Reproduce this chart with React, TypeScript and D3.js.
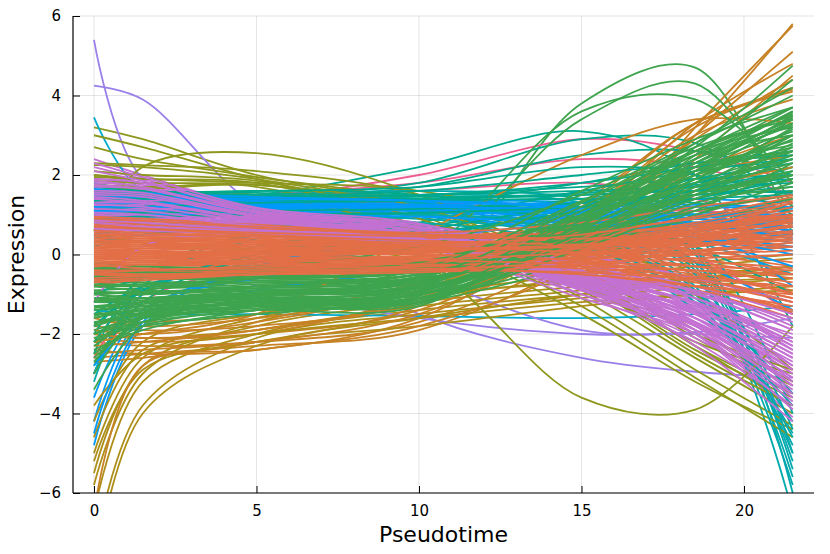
import React, { useEffect, useRef } from 'react';
import * as d3 from 'd3';

const knots = [0, 1.5, 5, 10, 15, 18.5, 21.5];

const xTicks = [0, 5, 10, 15, 20];
const yTicks = [-6, -4, -2, 0, 2, 4, 6];

const blueLines = [
  [1.3, 1.3, 1.2, 1.2, 1.1, 1.0, 0.9],
  [1.1, 1.15, 1.2, 1.3, 1.2, 1.0, 0.6],
  [1.5, 1.5, 1.4, 1.2, 0.9, 0.6, 0.3],
  [1.0, 1.1, 1.1, 1.0, 0.8, 0.5, 0.1],
  [-4.8, -1.8, -0.2, 0.5, 0.9, 1.0, 1.1],
  [1.2, 1.25, 1.3, 1.2, 1.0, 0.8, 0.7],
  [-4.2, -1.5, -0.4, 0.2, 0.6, 0.8, 0.9],
  [1.4, 1.35, 1.3, 1.3, 1.4, 1.4, 1.3],
  [-3.6, -1.4, -0.6, -0.2, 0.2, 0.5, 0.7],
  [0.9, 1.0, 1.05, 1.1, 1.0, 0.7, -0.8],
  [1.35, 1.3, 1.2, 1.0, 0.5, -0.2, -1.4],
  [1.6, 1.5, 1.3, 1.1, 0.8, 0.5, 0.2],
  [-2.8, -1.6, -0.9, -0.4, 0.1, 0.4, 0.6],
  [1.25, 1.2, 1.15, 1.1, 0.9, 0.6, 1.0],
  [1.45, 1.4, 1.35, 1.25, 1.1, 0.9, 0.8],
  [1.15, 1.2, 1.25, 1.25, 1.05, 0.75, 0.4],
  [1.05, 1.05, 1.1, 1.15, 1.2, 1.2, 1.15],
  [1.55, 1.45, 1.35, 1.2, 1.0, 0.7, 0.5],
  [1.3, 1.3, 1.25, 1.15, 0.85, 0.4, -0.3],
  [-4.5, -1.7, -0.3, 0.4, 0.8, 1.0, 1.0],
  [1.2, 1.2, 1.2, 1.25, 1.3, 1.25, 1.2],
  [0.95, 1.0, 1.0, 0.95, 0.75, 0.45, 0.0],
  [1.5, 1.45, 1.4, 1.35, 1.2, 0.9, 0.6],
  [1.1, 1.1, 1.15, 1.2, 1.1, 0.9, 0.7],
  [1.65, 1.55, 1.45, 1.35, 1.15, 0.8, 0.4],
];

const orangeLines = [
  [0.9, 0.8, 0.6, 0.4, 0.6, 0.9, 1.4],
  [0.8, 0.7, 0.5, 0.3, 0.4, 0.7, 1.1],
  [0.7, 0.6, 0.5, 0.4, 0.5, 0.6, 0.8],
  [0.6, 0.5, 0.4, 0.2, 0.1, 0.0, -0.3],
  [0.5, 0.45, 0.35, 0.2, 0.2, 0.3, 0.5],
  [0.4, 0.35, 0.3, 0.1, -0.1, -0.3, -0.6],
  [0.3, 0.3, 0.25, 0.1, 0.0, 0.1, 0.2],
  [0.2, 0.2, 0.1, 0.0, -0.2, -0.5, -0.9],
  [0.1, 0.1, 0.05, 0.0, 0.1, 0.3, 0.6],
  [0.0, 0.0, -0.05, -0.1, -0.3, -0.6, -1.2],
  [-0.1, -0.1, -0.1, -0.15, -0.1, 0.0, 0.2],
  [-0.2, -0.2, -0.2, -0.2, -0.4, -0.8, -1.5],
  [-0.3, -0.3, -0.25, -0.2, 0.0, 0.3, 0.7],
  [-0.4, -0.35, -0.3, -0.3, -0.5, -0.9, -1.6],
  [-0.5, -0.45, -0.4, -0.35, -0.2, 0.1, 0.4],
  [-0.6, -0.5, -0.4, -0.4, -0.6, -0.9, -1.3],
  [-0.7, -0.6, -0.45, -0.3, 0.1, 0.6, 1.2],
  [0.95, 0.85, 0.7, 0.5, 0.3, 0.1, -0.2],
  [0.75, 0.7, 0.55, 0.45, 0.7, 1.1, 1.5],
  [0.55, 0.5, 0.4, 0.3, 0.3, 0.4, 0.6],
  [0.45, 0.4, 0.3, 0.15, -0.2, -0.6, -1.1],
  [0.35, 0.3, 0.2, 0.05, 0.2, 0.6, 1.0],
  [0.25, 0.25, 0.2, 0.15, 0.3, 0.5, 0.9],
  [0.15, 0.1, 0.0, -0.1, -0.4, -0.8, -1.4],
  [0.05, 0.05, 0.1, 0.2, 0.4, 0.7, 1.3],
  [-0.05, -0.05, -0.1, -0.2, -0.2, -0.1, 0.0],
  [-0.15, -0.1, 0.0, 0.1, 0.3, 0.6, 1.1],
  [-0.25, -0.2, -0.15, -0.1, -0.3, -0.7, -1.2],
  [-0.35, -0.3, -0.2, -0.05, 0.2, 0.5, 0.8],
  [-0.45, -0.4, -0.35, -0.25, -0.1, 0.0, 0.1],
  [-0.55, -0.5, -0.4, -0.3, -0.4, -0.6, -0.8],
  [-0.65, -0.55, -0.4, -0.2, 0.0, 0.2, 0.4],
  [0.85, 0.75, 0.6, 0.45, 0.5, 0.7, 1.0],
  [0.65, 0.6, 0.5, 0.35, 0.1, -0.2, -0.5],
  [0.5, 0.5, 0.45, 0.4, 0.6, 0.9, 1.35],
  [0.3, 0.25, 0.15, 0.0, 0.0, 0.1, 0.3],
  [0.1, 0.05, -0.05, -0.2, -0.1, 0.2, 0.5],
  [-0.1, -0.15, -0.2, -0.3, -0.5, -0.8, -1.0],
  [-0.3, -0.25, -0.2, -0.1, 0.1, 0.4, 0.9],
  [-0.5, -0.45, -0.35, -0.2, -0.2, -0.3, -0.4],
  [0.2, 0.15, 0.1, 0.05, 0.2, 0.4, 0.7],
  [-0.8, -0.6, -0.4, -0.3, -0.3, -0.4, -0.5],
  [0.95, 0.9, 0.75, 0.55, 0.8, 1.2, 1.5],
  [0.85, 0.8, 0.65, 0.5, 0.55, 0.75, 1.2],
  [0.7, 0.65, 0.55, 0.45, 0.35, 0.3, 0.2],
  [0.6, 0.55, 0.45, 0.3, 0.45, 0.8, 1.3],
  [0.4, 0.4, 0.35, 0.3, 0.4, 0.6, 1.0],
  [0.3, 0.35, 0.3, 0.25, 0.15, -0.1, -0.5],
  [0.2, 0.25, 0.25, 0.2, 0.35, 0.65, 1.1],
  [0.1, 0.15, 0.15, 0.1, 0.0, -0.3, -0.8],
  [0.0, 0.05, 0.05, 0.05, 0.25, 0.55, 0.95],
  [-0.1, -0.05, 0.0, 0.0, -0.15, -0.45, -1.0],
  [-0.2, -0.15, -0.1, -0.05, 0.15, 0.45, 0.85],
  [-0.3, -0.25, -0.25, -0.25, -0.35, -0.55, -0.95],
  [-0.4, -0.4, -0.35, -0.3, -0.05, 0.35, 0.75],
  [-0.5, -0.5, -0.45, -0.4, -0.45, -0.65, -1.1],
  [-0.6, -0.55, -0.5, -0.45, -0.25, 0.05, 0.3],
  [-0.7, -0.65, -0.5, -0.35, -0.5, -0.8, -1.45],
  [0.9, 0.85, 0.7, 0.5, 0.4, 0.5, 0.7],
  [0.75, 0.65, 0.5, 0.35, 0.25, 0.25, 0.35],
  [0.5, 0.45, 0.35, 0.25, 0.5, 0.95, 1.45],
  [0.35, 0.35, 0.3, 0.2, 0.05, -0.15, -0.35],
  [0.15, 0.2, 0.2, 0.15, 0.25, 0.5, 0.85],
  [-0.05, 0.0, 0.05, 0.1, 0.2, 0.35, 0.55],
  [-0.25, -0.2, -0.15, -0.15, -0.25, -0.4, -0.7],
  [-0.45, -0.4, -0.3, -0.15, 0.05, 0.25, 0.45],
  [-0.65, -0.6, -0.5, -0.4, -0.15, 0.2, 0.6],
];

const greenLines = [
  [-1.5, -1.2, -1.0, -0.9, 3.8, 4.7, 0.5],
  [-0.3, -0.35, -0.4, -0.3, 0.6, 1.6, 2.5],
  [-0.5, -0.55, -0.55, -0.4, 0.4, 1.4, 2.2],
  [-0.7, -0.7, -0.65, -0.5, 0.5, 1.7, 3.0],
  [-0.9, -0.85, -0.8, -0.6, 0.3, 1.3, 2.0],
  [-1.1, -1.0, -0.9, -0.7, 0.6, 2.0, 3.4],
  [-1.2, -1.2, -1.0, -0.8, 0.2, 1.2, 1.9],
  [-1.2, -1.0, -0.8, -0.3, 3.4, 4.3, 1.2],
  [-1.4, -1.3, -1.1, -0.9, 0.4, 1.8, 3.2],
  [-1.6, -1.4, -1.2, -1.0, 0.0, 1.0, 1.6],
  [-1.8, -1.5, -1.2, -0.8, 0.8, 2.4, 3.7],
  [-2.0, -1.6, -1.3, -1.1, 0.2, 1.5, 2.6],
  [-2.2, -1.7, -1.3, -1.0, 0.5, 2.1, 3.5],
  [-2.5, -1.8, -1.4, -1.2, -0.2, 0.9, 1.4],
  [-1.0, -0.9, -0.6, 0.0, 3.6, 3.9, 1.8],
  [-0.4, -0.5, -0.6, -0.5, 0.8, 2.3, 3.6],
  [-0.6, -0.7, -0.7, -0.6, 0.1, 0.9, 1.2],
  [-0.8, -0.9, -0.9, -0.7, 0.9, 2.7, 4.75],
  [-1.0, -1.1, -1.0, -0.8, 0.3, 1.6, 2.8],
  [-1.3, -1.2, -1.1, -1.0, 0.7, 2.5, 4.4],
  [-1.5, -1.4, -1.2, -1.1, -0.1, 1.0, 1.8],
  [-1.7, -1.5, -1.3, -1.2, 0.6, 2.2, 3.3],
  [-1.9, -1.6, -1.4, -1.3, 1.0, 2.8, 4.2],
  [-2.1, -1.8, -1.5, -1.1, 0.4, 1.9, 3.0],
  [-2.4, -1.9, -1.4, -1.0, 0.1, 1.1, 2.3],
  [-3.0, -1.5, -1.0, -0.6, 1.0, 2.6, 3.7],
  [-3.4, -1.8, -1.1, -0.7, 0.5, 1.7, 2.5],
  [-2.7, -1.6, -1.2, -0.9, 0.8, 2.3, 3.4],
  [-0.3, -0.4, -0.5, -0.4, 1.2, 2.6, 3.5],
  [-0.5, -0.6, -0.6, -0.3, 1.6, 2.9, 3.7],
  [-0.7, -0.8, -0.75, -0.5, 0.9, 2.0, 2.7],
  [-0.9, -1.0, -0.85, -0.55, 1.3, 2.6, 3.2],
  [-1.1, -1.1, -0.95, -0.65, 0.7, 1.9, 2.9],
  [-1.3, -1.3, -1.05, -0.75, 1.1, 2.4, 3.6],
  [-1.5, -1.5, -1.15, -0.85, 0.5, 1.5, 2.1],
  [-1.7, -1.6, -1.25, -0.95, 0.9, 2.1, 2.6],
  [-0.2, -0.3, -0.3, 0.2, 1.5, 2.8, 4.0],
  [-0.8, -0.75, -0.6, -0.4, 0.6, 1.5, 2.0],
  [-1.2, -1.15, -1.0, -0.7, 0.4, 1.1, 1.5],
  [-2.0, -1.7, -1.4, -1.2, 0.3, 1.6, 2.7],
  [-0.4, -0.45, -0.45, -0.35, 0.7, 1.9, 2.9],
  [-0.6, -0.6, -0.6, -0.45, 0.45, 1.5, 2.4],
  [-0.8, -0.8, -0.7, -0.55, 1.0, 2.4, 3.3],
  [-1.0, -0.95, -0.85, -0.65, 0.35, 1.4, 2.1],
  [-1.2, -1.1, -0.95, -0.75, 0.85, 2.2, 3.1],
  [-1.4, -1.25, -1.05, -0.85, 0.25, 1.3, 1.7],
  [-1.6, -1.35, -1.15, -0.95, 0.65, 2.0, 3.0],
  [-1.8, -1.45, -1.2, -1.05, 1.1, 2.5, 3.55],
  [-2.0, -1.5, -1.25, -1.15, 0.45, 1.7, 2.4],
  [-2.3, -1.6, -1.3, -1.25, 0.75, 2.2, 3.45],
  [-2.6, -1.7, -1.35, -1.2, 0.15, 1.2, 1.9],
  [-0.35, -0.4, -0.35, -0.2, 1.0, 2.2, 2.75],
  [-0.55, -0.6, -0.55, -0.35, 1.35, 2.7, 3.4],
  [-0.75, -0.75, -0.7, -0.5, 0.55, 1.8, 2.6],
  [-0.95, -0.95, -0.8, -0.6, 1.2, 2.5, 3.0],
  [-1.15, -1.1, -0.9, -0.7, 0.5, 1.6, 2.3],
  [-1.35, -1.2, -1.0, -0.8, 0.95, 2.3, 3.25],
  [-1.55, -1.3, -1.1, -0.9, 0.35, 1.4, 2.0],
  [-1.75, -1.4, -1.2, -1.0, 0.75, 2.1, 2.85],
  [-2.2, -1.55, -1.3, -1.1, 0.55, 1.9, 3.15],
];

const purpleLines = [
  [2.4, 2.0, 1.2, 0.8, 0.0, -1.0, -2.4],
  [2.2, 1.9, 1.15, 0.75, -0.1, -1.2, -2.8],
  [2.0, 1.8, 1.1, 0.7, -0.3, -1.4, -3.2],
  [1.9, 1.75, 1.05, 0.65, -0.4, -1.5, -3.0],
  [1.8, 1.7, 1.05, 0.6, -0.6, -1.8, -3.6],
  [1.75, 1.6, 1.0, 0.55, -0.7, -1.9, -3.9],
  [1.7, 1.6, 1.0, 0.6, -0.3, -1.1, -2.2],
  [1.65, 1.55, 0.95, 0.5, -0.8, -2.0, -4.1],
  [1.6, 1.5, 0.95, 0.55, -0.5, -1.3, -2.5],
  [1.55, 1.45, 0.9, 0.45, -0.9, -2.1, -3.5],
  [1.5, 1.4, 0.9, 0.5, -0.6, -1.4, -2.6],
  [1.45, 1.4, 0.92, 0.55, -0.4, -0.9, -1.8],
  [1.4, 1.35, 0.85, 0.45, -0.7, -1.6, -3.0],
  [1.35, 1.3, 0.85, 0.4, -1.0, -2.2, -3.8],
  [1.3, 1.25, 0.8, 0.4, -0.8, -1.7, -3.1],
  [1.25, 1.2, 0.8, 0.45, -0.5, -1.0, -1.9],
  [1.2, 1.15, 0.75, 0.35, -0.9, -1.8, -3.3],
  [1.1, 1.05, 0.72, 0.4, -0.6, -1.2, -2.2],
  [0.9, 0.85, 0.65, 0.35, -0.7, -1.5, -2.7],
  [0.7, 0.65, 0.55, 0.3, -0.8, -1.6, -2.9],
  [0.6, 0.6, 0.5, 0.25, -1.0, -1.9, -3.4],
  [0.5, 0.5, 0.45, 0.2, -1.1, -2.0, -3.7],
  [0.8, 0.75, 0.6, 0.3, -0.6, -1.0, -1.6],
  [1.0, 0.95, 0.7, 0.35, -0.8, -1.3, -2.0],
  [1.7, 1.65, 1.1, 0.7, -0.2, -0.8, -1.5],
  [1.9, 1.8, 1.15, 0.75, 0.0, -0.6, -1.2],
  [2.1, 1.85, 1.1, 0.7, -0.3, -1.1, -2.3],
  [1.5, 1.45, 0.95, 0.5, -0.7, -2.3, -4.2],
  [-1.2, 0.2, 0.5, 0.4, -0.5, -1.2, -2.3],
  [1.85, 1.7, 1.05, 0.65, -0.5, -1.6, -3.3],
  [1.6, 1.55, 1.0, 0.6, -0.45, -1.25, -2.4],
  [1.45, 1.35, 0.88, 0.5, -0.75, -1.75, -3.2],
  [1.3, 1.3, 0.85, 0.45, -0.65, -1.5, -2.8],
  [1.15, 1.1, 0.75, 0.4, -0.85, -1.9, -3.6],
  [0.95, 0.9, 0.68, 0.38, -0.6, -1.35, -2.5],
  [0.75, 0.7, 0.58, 0.32, -0.75, -1.7, -3.1],
  [0.65, 0.6, 0.52, 0.3, -0.5, -0.9, -1.7],
  [1.75, 1.65, 1.05, 0.68, -0.25, -0.95, -1.9],
  [1.55, 1.5, 0.98, 0.58, -0.55, -1.45, -2.9],
  [1.4, 1.3, 0.9, 0.52, -0.45, -1.1, -2.1],
  [2.3, 1.95, 1.18, 0.78, -0.4, -1.7, -3.5],
  [1.25, 1.2, 0.82, 0.42, -0.9, -2.0, -3.9],
  [1.05, 1.0, 0.72, 0.38, -0.65, -1.4, -2.6],
  [0.85, 0.8, 0.62, 0.34, -0.8, -1.8, -3.3],
];

const ochreLines = [
  [-5.5, -2.8, -1.8, -1.2, -0.8, -0.6, -0.5],
  [-6.5, -3.2, -2.0, -1.4, -1.0, -0.7, -0.6],
  [-5.0, -2.6, -1.6, -1.0, -0.5, -0.2, 0.0],
  [-7.5, -3.8, -2.1, -1.5, -1.1, -0.8, -0.6],
  [-4.6, -2.4, -1.9, -1.3, -0.9, -0.6, -0.4],
  [-5.8, -3.0, -1.7, -1.1, -0.6, -0.3, -0.1],
  [-4.2, -2.2, -1.5, -1.0, -0.7, -0.5, -0.3],
  [-8.0, -4.0, -2.3, -1.6, -1.0, -0.6, -0.3],
  [-3.8, -2.5, -2.0, -1.6, -1.2, -1.0, -0.9],
  [-5.2, -2.9, -2.2, -1.8, -1.3, -1.0, -0.8],
];

const tealLines = [
  [1.2, 1.3, 1.4, 1.5, 1.3, 0.2, -6.0],
  [1.0, 1.1, 1.2, 1.2, 0.9, -0.3, -5.6],
  [1.4, 1.5, 1.5, 1.4, 1.0, -0.2, -5.2],
  [0.6, 0.8, 1.0, 1.0, 0.6, -0.6, -5.0],
  [1.1, 1.2, 1.3, 1.2, 0.7, -0.8, -4.8],
  [0.4, 0.6, 0.9, 1.0, 0.5, -1.0, -4.5],
  [1.5, 1.5, 1.4, 1.3, 0.9, -0.4, -6.5],
  [0.9, 1.0, 1.1, 1.1, 0.4, -1.2, -4.2],
  [1.3, 1.4, 1.5, 1.6, 1.4, 0.5, -4.0],
  [0.2, 0.5, 0.8, 0.9, 0.3, -1.4, -3.8],
  [-3.2, -0.8, 0.4, 1.0, 1.2, 0.0, -5.4],
  [0.8, 0.9, 1.1, 1.2, 0.8, -0.5, -5.8],
  [1.25, 1.3, 1.35, 1.3, 0.6, -0.9, -4.6],
  [0.5, 0.7, 0.9, 1.0, 0.7, -0.2, -4.4],
  [1.1, 1.2, 1.25, 1.2, 1.0, 0.1, -5.0],
  [0.3, 0.5, 0.7, 0.8, 0.2, -1.1, -3.5],
];

const pinkLines = [
  [1.0, 1.2, 1.4, 2.0, 2.9, 2.6, 1.8],
  [1.3, 1.4, 1.5, 1.8, 2.4, 2.2, 1.5],
  [-3.0, -1.2, -0.3, 0.2, 0.6, 0.8, 1.0],
  [-2.6, -1.0, 0.0, 0.5, 1.0, 1.1, 0.9],
  [1.6, 1.5, 1.5, 1.6, 1.8, 1.4, 0.5],
  [0.8, 1.0, 1.2, 1.3, 1.1, 0.0, -1.5],
];

const brownLines = [
  [-2.2, -2.3, -2.2, -1.7, 0.2, 3.0, 5.8],
  [-2.6, -2.5, -2.3, -1.9, 0.0, 3.2, 5.75],
  [-2.0, -2.1, -2.0, -1.4, 0.6, 3.0, 5.1],
  [-2.4, -2.5, -2.4, -1.6, 0.8, 3.3, 4.8],
  [-1.8, -1.9, -1.8, -1.2, 0.8, 2.9, 4.4],
  [-2.7, -2.6, -2.2, -1.3, 1.0, 3.2, 4.2],
  [-2.1, -2.2, -2.0, -1.0, 1.2, 3.3, 4.15],
  [-1.9, -2.0, -1.7, -0.8, 1.3, 3.3, 4.1],
  [-2.3, -2.2, -1.9, -1.1, 1.0, 3.0, 3.9],
  [-1.6, -1.8, -1.6, -0.9, 1.0, 2.6, 3.5],
  [-2.5, -2.4, -2.2, -1.5, 0.4, 2.1, 3.0],
  [-1.7, -1.7, -1.5, -0.7, 0.8, 2.0, 2.5],
  [-2.0, -2.1, -1.9, -1.2, 0.3, 1.6, 2.2],
  [-2.2, -2.0, -1.5, 0.5, 2.5, 3.4, 3.3],
  [-6.5, -2.8, -2.4, -1.8, -0.2, 2.4, 4.5],
];

const tealGreenLines = [
  [1.4, 1.4, 1.5, 2.2, 3.1, 2.0, -1.8],
  [1.6, 1.6, 1.5, 1.8, 2.9, 2.8, 1.2],
  [1.3, 1.35, 1.4, 1.7, 2.5, 2.6, 2.0],
  [-3.0, -0.8, 0.6, 1.2, 1.8, 2.3, 2.6],
  [-2.5, -0.5, 0.5, 1.0, 1.4, 1.8, 2.2],
  [-2.0, -0.6, 0.2, 0.7, 1.2, 1.5, 1.7],
  [1.2, 1.3, 1.4, 1.5, 1.7, 1.9, 2.0],
  [1.1, 1.2, 1.2, 1.2, 1.3, 1.5, 1.6],
  [-1.5, -0.8, -0.2, 0.4, 1.2, 1.8, 2.4],
  [-1.0, -0.6, -0.3, 0.2, 0.8, 1.4, 1.9],
  [1.5, 1.5, 1.6, 1.5, 0.9, 0.2, -1.0],
  [-2.8, -1.2, 0.0, 0.8, 1.6, 2.1, 2.4],
  [1.45, 1.45, 1.45, 1.5, 1.6, 1.7, 1.8],
  [1.25, 1.3, 1.35, 1.4, 1.55, 1.75, 1.9],
  [1.55, 1.5, 1.45, 1.4, 1.5, 1.6, 1.55],
  [-2.2, -0.9, 0.0, 0.6, 1.3, 1.9, 2.3],
  [1.35, 1.4, 1.45, 1.6, 2.0, 2.3, 2.5],
  [1.15, 1.2, 1.3, 1.35, 1.4, 1.3, 1.1],
  [-1.8, -0.9, -0.1, 0.5, 1.1, 1.6, 2.0],
  [1.5, 1.55, 1.6, 1.7, 2.2, 2.0, 1.0],
  [1.6, 1.55, 1.5, 1.45, 1.5, 1.7, 2.1],
  [1.0, 1.05, 1.1, 1.15, 1.3, 1.6, 2.0],
  [1.7, 1.6, 1.55, 1.5, 1.8, 2.2, 2.6],
  [0.9, 0.95, 1.0, 1.05, 1.2, 1.4, 1.5],
];

const oliveLines = [
  [3.2, 2.9, 2.0, 1.2, -0.6, -2.4, -3.6],
  [3.0, 2.7, 1.9, 0.9, -0.9, -2.6, -4.0],
  [2.7, 2.4, 1.95, 1.3, -0.3, -2.1, -3.3],
  [2.3, 2.25, 2.1, 1.5, -0.1, -1.9, -3.2],
  [2.25, 2.2, 1.9, 1.1, -0.5, -2.3, -3.5],
  [1.95, 1.9, 1.8, 1.6, 0.6, -1.0, -2.9],
  [1.7, 1.65, 1.75, 1.0, -1.1, -2.9, -4.3],
  [0.6, 2.2, 2.55, 1.5, -0.5, -2.3, -3.8],
  [2.0, 1.9, 1.8, 0.7, -1.3, -3.1, -4.6],
  [1.75, 1.7, 1.7, 0.5, -1.5, -3.2, -4.4],
  [1.6, 1.55, 1.5, 0.6, -0.8, -2.2, -3.0],
  [2.1, 2.0, 1.85, 0.9, -0.7, -2.5, -3.8],
  [1.85, 1.8, 1.75, 1.2, -0.4, -2.0, -2.9],
  [0.5, 0.3, 0.1, -0.2, -3.6, -3.9, -1.8],
];

const cyanLines = [
  [3.45, 1.6, 1.3, 1.2, 1.1, 1.0, 0.9],
  [-1.4, -1.5, -1.5, -1.55, -1.6, -1.5, -1.3],
  [1.8, 1.6, 1.5, 1.4, 1.3, 1.1, 0.8],
  [-3.0, -1.0, -0.2, 0.3, 0.6, 0.7, 0.8],
  [1.2, 1.2, 1.1, 0.9, 0.6, 0.3, -0.5],
];

const lavenderLines = [
  [5.4, 1.9, 0.8, -1.5, -2.6, -2.95, -3.1],
  [4.25, 3.9, 1.2, -0.5, -1.9, -2.0, -2.1],
  [0.5, 0.3, -0.8, -1.6, -2.0, -1.95, -1.6],
];

const groups = [
  { color: '#009AFA', lines: blueLines },
  { color: '#E36F47', lines: orangeLines },
  { color: '#3EA44E', lines: greenLines },
  { color: '#C371D2', lines: purpleLines },
  { color: '#AC8E18', lines: ochreLines },
  { color: '#00A9AD', lines: tealLines },
  { color: '#ED5E93', lines: pinkLines },
  { color: '#C68225', lines: brownLines },
  { color: '#00A98D', lines: tealGreenLines },
  { color: '#8E971D', lines: oliveLines },
  { color: '#00A9CD', lines: cyanLines },
  { color: '#9B7FE9', lines: lavenderLines },
];

const FONT = '"DejaVu Sans", sans-serif';

const App = () => {
  const ref = useRef<SVGSVGElement>(null);

  useEffect(() => {
    const svg = d3.select(ref.current);
    svg.selectAll('*').remove();

    const left = 73;
    const right = 814;
    const top = 16;
    const bottom = 493;

    const x = d3
      .scaleLinear()
      .domain([-0.646, 22.154])
      .range([left, right]);
    const y = d3.scaleLinear().domain([-6, 6]).range([bottom, top]);

    svg
      .append('defs')
      .append('clipPath')
      .attr('id', 'plot-clip')
      .append('rect')
      .attr('x', left)
      .attr('y', top)
      .attr('width', right - left)
      .attr('height', bottom - top);

    // grid
    const grid = svg.append('g').attr('stroke', '#000').attr('stroke-opacity', 0.1).attr('stroke-width', 1);
    xTicks.forEach((t) => {
      grid.append('line').attr('x1', x(t)).attr('x2', x(t)).attr('y1', top).attr('y2', bottom);
    });
    yTicks.forEach((t) => {
      grid.append('line').attr('x1', left).attr('x2', right).attr('y1', y(t)).attr('y2', y(t));
    });

    // one line per gene, colours interleaved like the original draw order
    const maxN = d3.max(groups, (g) => g.lines.length) || 0;
    const series: { color: string; values: number[] }[] = [];
    for (let i = 0; i < maxN; i++) {
      groups.forEach((g) => {
        if (g.lines[i]) series.push({ color: g.color, values: g.lines[i] });
      });
    }

    const line = d3
      .line<number>()
      .x((_, i) => x(knots[i]))
      .y((d) => y(d))
      .curve(d3.curveCatmullRom.alpha(0.5));

    svg
      .append('g')
      .attr('clip-path', 'url(#plot-clip)')
      .selectAll('path')
      .data(series)
      .enter()
      .append('path')
      .attr('d', (d) => line(d.values))
      .attr('fill', 'none')
      .attr('stroke', (d) => d.color)
      .attr('stroke-width', 1.8);

    // axes
    const fmt = (v: number) => (v < 0 ? '\u2212' + Math.abs(v) : String(v));
    const xAxis = d3
      .axisBottom(x)
      .tickValues(xTicks)
      .tickSizeInner(-7)
      .tickSizeOuter(0)
      .tickPadding(12)
      .tickFormat((d) => fmt(d as number));
    const yAxis = d3
      .axisLeft(y)
      .tickValues(yTicks)
      .tickSizeInner(-7)
      .tickSizeOuter(0)
      .tickPadding(12)
      .tickFormat((d) => fmt(d as number));

    const gx = svg.append('g').attr('transform', `translate(0,${bottom})`).call(xAxis);
    const gy = svg.append('g').attr('transform', `translate(${left},0)`).call(yAxis);
    [gx, gy].forEach((g) => {
      g.select('.domain').attr('stroke', '#000').attr('stroke-width', 1.2);
      g.selectAll('.tick line').attr('stroke', '#000').attr('stroke-width', 1);
      g.selectAll('.tick text').attr('font-family', FONT).attr('font-size', 15).attr('fill', '#000');
    });
    gx.select('.domain').attr('d', `M${left},0H${right}`);
    gy.select('.domain').attr('d', `M0,${bottom}V${top}`);

    svg
      .append('text')
      .attr('x', (left + right) / 2)
      .attr('y', 542)
      .attr('text-anchor', 'middle')
      .attr('font-family', FONT)
      .attr('font-size', 22)
      .text('Pseudotime');

    svg
      .append('text')
      .attr('transform', `translate(24,${(top + bottom) / 2}) rotate(-90)`)
      .attr('text-anchor', 'middle')
      .attr('font-family', FONT)
      .attr('font-size', 22)
      .text('Expression');
  }, []);

  return (
    <svg
      ref={ref}
      width={830}
      height={554}
      style={{ position: 'absolute', left: 0, top: 0, background: '#fff' }}
    />
  );
};

export default App;
